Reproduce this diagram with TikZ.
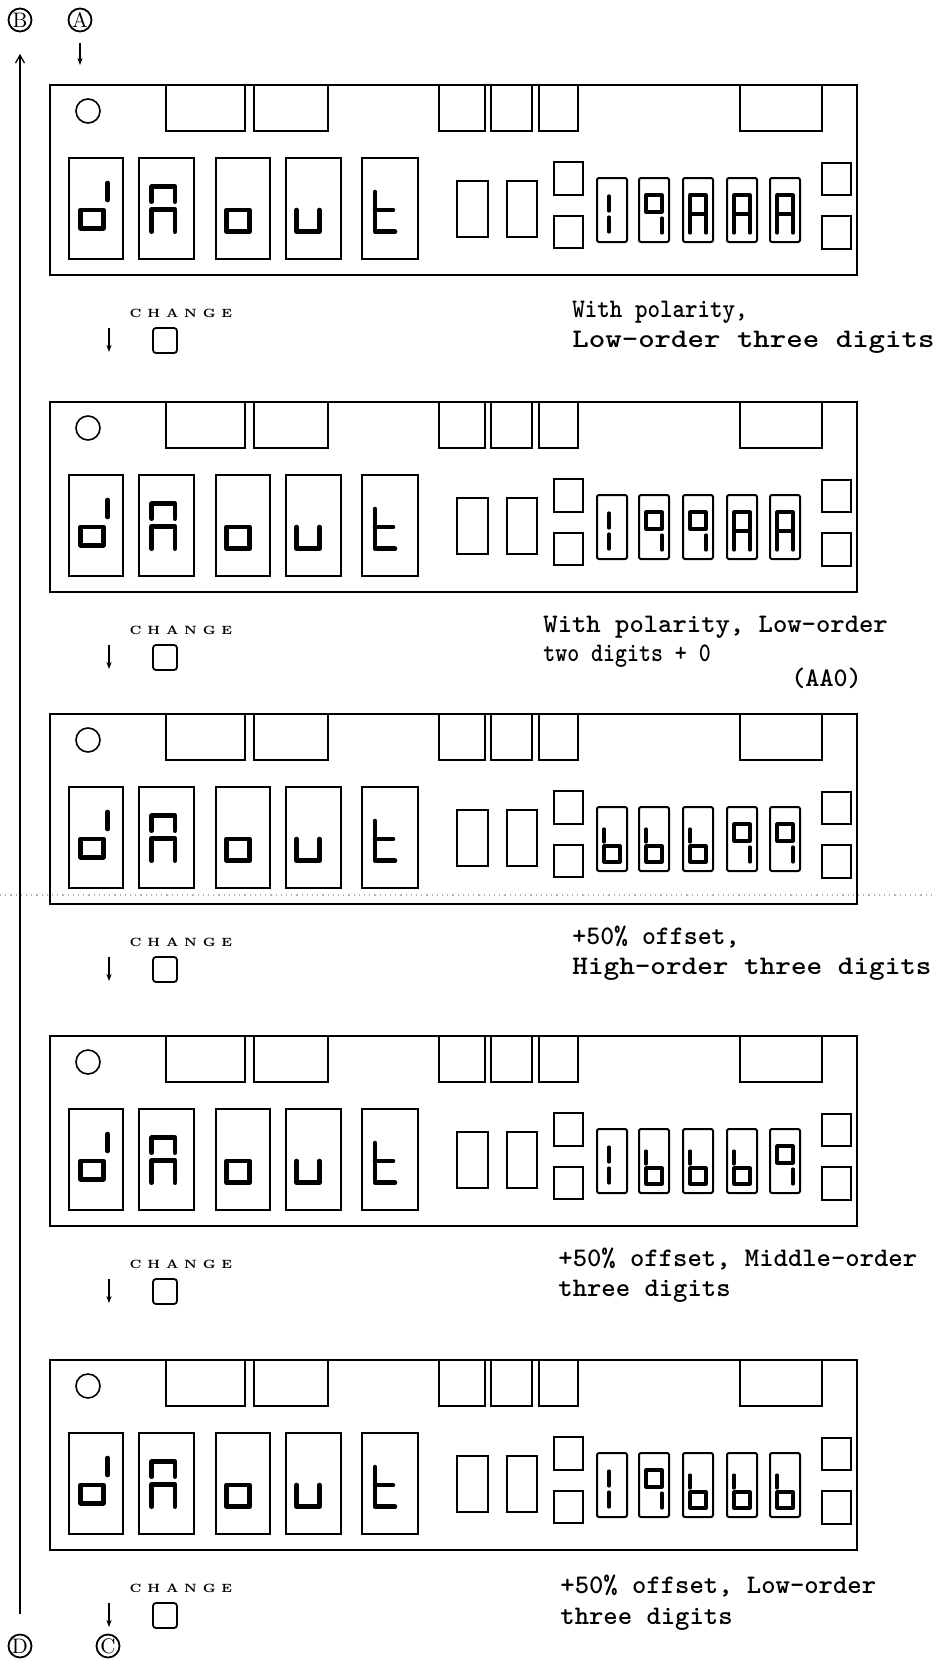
\documentclass[tikz,border=0pt]{standalone}
\usepackage{graphicx}
\usetikzlibrary{arrows.meta}
\tikzset{
  frame/.style={line width=1.1pt},
  boxl/.style={line width=0.8pt},
  led/.style={line width=1pt, rounded corners=1pt},
  seg/.style={line width=1.6pt, line cap=round, line join=round},
  bigseg/.style={line width=2.3pt, line cap=round, line join=round},
  circ/.style={circle, draw, line width=0.9pt, minimum size=11.5pt, inner sep=0pt, font=\fontsize{10.5}{10.5}\selectfont},
  lab/.style={anchor=base west, inner sep=0pt, font=\fontsize{13.4}{15}\selectfont\ttfamily\bfseries},
  chg/.style={inner sep=0pt, font=\fontsize{6}{7}\selectfont\bfseries},
  btn/.style={draw, line width=0.9pt, rounded corners=1.5pt},
  dnarrow/.style={-{Stealth[length=3.5pt,width=2.6pt]}, line width=0.6pt},
}
% seven-segment glyphs, drawn in a 30x64 box
\newcommand\gA{\draw[seg] (7,55)--(7,17)--(23,17)--(23,55); \draw[seg] (7,36)--(23,36);}
\newcommand\gNine{\draw[seg] (23,34)--(7,34)--(7,17)--(23,17)--cycle; \draw[seg] (23,40)--(23,55);}
\newcommand\gB{\draw[seg] (7,22)--(7,35); \draw[seg] (7,39) rectangle (23,55);}
\newcommand\gOne{\draw[seg] (12,18)--(12,33); \draw[seg] (12,39)--(12,54);}
\newcommand\chgtext{C\hskip2.9pt H\hskip2.9pt A\hskip2.9pt N\hskip2.9pt G\hskip2.9pt E}
\newcommand\panel[7]{%
\begin{scope}[shift={(50,#1)}]
  \draw[frame] (0,0) rectangle (807,190);
  \draw[boxl] (38,26) circle[radius=12];
  \foreach \a/\b in {116/195,204/278,389/435,441/482,489/528,690/772}
    \draw[boxl] (\a,0) rectangle (\b,46);
  \foreach \a/\b in {19/73,89/144,166/220,236/291,312/368}
    \draw[boxl] (\a,73) rectangle (\b,174);
  % d
  \draw[bigseg] (30.7,125) rectangle (53.3,143.3);
  \draw[bigseg] (57.5,98) -- (57.5,115);
  % double arch
  \draw[bigseg] (101.7,116.7) -- (101.7,101.7) -- (125,101.7) -- (125,116.7);
  \draw[bigseg] (101.7,146.7) -- (101.7,124.3) -- (125,124.3) -- (125,146.7);
  % o
  \draw[bigseg] (176.7,125) rectangle (199.3,146.7);
  % u
  \draw[bigseg] (246.7,125) -- (246.7,146.7) -- (269.3,146.7) -- (269.3,125);
  % t
  \draw[bigseg] (325,107) -- (325,146.7) -- (345,146.7);
  \draw[bigseg] (325,125) -- (343,125);
  % blank windows and keys
  \draw[boxl] (407,96) rectangle (438,152);
  \draw[boxl] (457,96) rectangle (487,152);
  \draw[boxl] (504,77) rectangle (533,110);
  \draw[boxl] (504,131) rectangle (533,163);
  \draw[boxl] (772,78) rectangle (801,110);
  \draw[boxl] (772,131) rectangle (801,164);
  % LED digits
  \foreach \x in {547,589,633,677,720} \draw[led] (\x,93) rectangle +(30,64);
  \begin{scope}[shift={(547,93)}] #3 \end{scope}
  \begin{scope}[shift={(589,93)}] #4 \end{scope}
  \begin{scope}[shift={(633,93)}] #5 \end{scope}
  \begin{scope}[shift={(677,93)}] #6 \end{scope}
  \begin{scope}[shift={(720,93)}] #7 \end{scope}
  % CHANGE key
  \node[chg] (#2chg) at (131,228) {\chgtext};
  \draw[btn] (103,243) rectangle (127,268);
  \coordinate (#2a1) at (59,243);
  \coordinate (#2a2) at (59,267);
  \draw[dnarrow] (#2a1) -- (#2a2);
\end{scope}}
\begin{document}
\begin{tikzpicture}[x=0.5pt,y=-0.5pt]
\useasboundingbox (0,0) rectangle (933,1659);
\fill[white] (0,0) rectangle (933,1659);

\panel{85}{p1}{\gOne}{\gNine}{\gA}{\gA}{\gA}
\panel{402}{p2}{\gOne}{\gNine}{\gNine}{\gA}{\gA}
\panel{714}{p3}{\gB}{\gB}{\gB}{\gNine}{\gNine}
\panel{1036}{p4}{\gOne}{\gB}{\gB}{\gB}{\gNine}
\panel{1360}{p5}{\gOne}{\gNine}{\gB}{\gB}{\gB}

% scan line
\draw[gray!60, dotted, line width=0.6pt] (0,895) -- (933,895);

% circled markers and flow arrows
\node[circ] (B) at (20,20) {B};
\node[circ] (A) at (80,20) {A};
\node[circ] (D) at (20,1646) {D};
\node[circ] (C) at (108,1646) {C};
\draw[-{Straight Barb[length=4pt,width=4.5pt]}, line width=0.6pt, shorten <=9.75pt, shorten >=10.75pt] (D) -- (B);
\coordinate (Aend) at (80,65);
\draw[dnarrow, shorten <=5.25pt] (A) -- (Aend);

% labels
\node[lab] (t1a) at (572,317) {\scalebox{0.89}[1]{With polarity,}};
\node[lab] (t1b) at (572,347) {\scalebox{1.17}[1]{Low-order three digits}};
\node[lab] (t2a) at (543,632) {\scalebox{1.02}[1]{With polarity, Low-order}};
\node[lab] (t2b) at (543,661) {\scalebox{0.85}[1]{two digits + 0}};
\node[lab] (t2c) at (791,686) {(AA0)};
\node[lab] (t3a) at (572,944) {\scalebox{0.99}[1]{+50\% offset,}};
\node[lab] (t3b) at (572,974) {\scalebox{1.11}[1]{High-order three digits}};
\node[lab] (t4a) at (558,1266) {\scalebox{1.02}[1]{+50\% offset, Middle-order}};
\node[lab] (t4b) at (558,1296) {\scalebox{1.02}[1]{three digits}};
\node[lab] (t5a) at (560,1593) {\scalebox{1.02}[1]{+50\% offset, Low-order}};
\node[lab] (t5b) at (560,1624) {\scalebox{1.02}[1]{three digits}};
\end{tikzpicture}
\end{document}
